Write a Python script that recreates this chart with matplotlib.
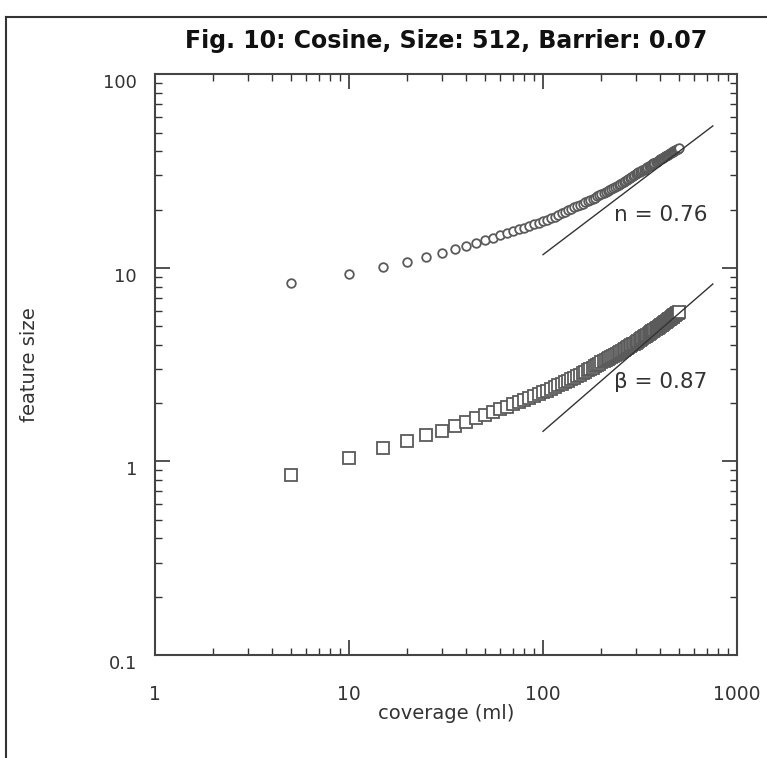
import matplotlib.pyplot as plt
import numpy as np
from matplotlib.lines import Line2D

ink = '#333333'
grey = '#5a5a5a'

plt.rcParams['font.family'] = ['DejaVu Sans']
plt.rcParams.update({
    'xtick.direction': 'in', 'ytick.direction': 'in',
    'xtick.top': True, 'ytick.right': True,
    'xtick.major.size': 11, 'ytick.major.size': 11,
    'xtick.minor.size': 5, 'ytick.minor.size': 5,
    'xtick.major.width': 1.2, 'ytick.major.width': 1.2,
    'xtick.minor.width': 1, 'ytick.minor.width': 1,
    'xtick.major.pad': 22, 'ytick.major.pad': 13,
    'xtick.color': ink, 'ytick.color': ink,
    'xtick.labelcolor': ink, 'ytick.labelcolor': ink,
    'xtick.labelsize': 13.5, 'ytick.labelsize': 13,
    'axes.edgecolor': '#444444', 'axes.linewidth': 1.5,
})

# coverage grid (ml), one point every 5 ml
coverage = np.arange(5, 505, 5)

# upper series (circles)
n_size = [8.35, 9.3, 10.1, 10.7, 11.4, 12.0, 12.5, 13.0, 13.5, 13.9,
          14.3, 14.7, 15.1, 15.5, 15.8, 16.1, 16.5, 16.8, 17.1, 17.4,
          17.7, 18.1, 18.4, 18.8, 19.1, 19.4, 19.8, 20.1, 20.5, 20.8,
          21.1, 21.4, 21.8, 22.1, 22.4, 22.7, 23.0, 23.4, 23.7, 24.0,
          24.3, 24.6, 25.0, 25.3, 25.6, 25.9, 26.2, 26.6, 26.9, 27.2,
          27.5, 27.9, 28.2, 28.5, 28.9, 29.2, 29.5, 29.8, 30.2, 30.5,
          30.8, 31.1, 31.4, 31.7, 32.0, 32.2, 32.5, 32.8, 33.1, 33.4,
          33.7, 34.0, 34.3, 34.6, 34.9, 35.1, 35.4, 35.7, 36.0, 36.3,
          36.6, 36.8, 37.1, 37.4, 37.7, 37.9, 38.2, 38.5, 38.7, 39.0,
          39.3, 39.5, 39.8, 40.0, 40.3, 40.5, 40.8, 41.0, 41.3, 41.5]

# lower series (squares)
b_size = [0.85, 1.04, 1.17, 1.28, 1.37, 1.44, 1.52, 1.60, 1.67, 1.74,
          1.80, 1.86, 1.92, 1.97, 2.02, 2.07, 2.12, 2.17, 2.22, 2.27,
          2.32, 2.37, 2.42, 2.47, 2.51, 2.56, 2.61, 2.66, 2.70, 2.75,
          2.80, 2.85, 2.90, 2.95, 3.00, 3.05, 3.10, 3.15, 3.20, 3.25,
          3.29, 3.34, 3.38, 3.42, 3.47, 3.51, 3.55, 3.59, 3.64, 3.68,
          3.72, 3.76, 3.81, 3.85, 3.89, 3.93, 3.97, 4.02, 4.06, 4.10,
          4.15, 4.19, 4.24, 4.28, 4.33, 4.37, 4.42, 4.46, 4.51, 4.55,
          4.60, 4.64, 4.69, 4.73, 4.78, 4.82, 4.87, 4.91, 4.96, 5.00,
          5.05, 5.09, 5.14, 5.18, 5.23, 5.27, 5.32, 5.36, 5.41, 5.45,
          5.50, 5.54, 5.59, 5.63, 5.68, 5.72, 5.77, 5.81, 5.86, 5.90]

# fitted power-law lines (end points)
fit_x = [100, 750]
n_fit = [11.7, 54.1]
b_fit = [1.43, 8.25]

fig = plt.figure(figsize=(7.67, 7.58), dpi=100)
ax = fig.add_axes([0.202, 0.136, 0.759, 0.766])

ax.plot(coverage, n_size, 'o', ms=6.2, mfc='white', mec=grey, mew=1.3, ls='none')
ax.plot(coverage, b_size, 's', ms=9, mfc='white', mec=grey, mew=1.3, ls='none')
ax.plot(fit_x, n_fit, color=ink, lw=1)
ax.plot(fit_x, b_fit, color=ink, lw=1)

ax.text(232, 18.8, 'n = 0.76', fontsize=15.5, color=ink, va='center')
ax.text(232, 2.58, 'β = 0.87', fontsize=15.5, color=ink, va='center')

ax.set_xscale('log')
ax.set_yscale('log')
ax.set_xlim(1, 1000)
ax.set_ylim(0.1, 100)
ax.set_xticks([1, 10, 100, 1000])
ax.set_xticklabels(['1', '10', '100', '1000'])
ax.set_yticks([0.1, 1, 10, 100])
ax.set_yticklabels(['0.1', '1', '10', '100'], va='top')
ax.tick_params(axis='x', which='both', bottom=True, top=True)

ax.set_xlabel('coverage (ml)', fontsize=14, color=ink, labelpad=0)
ax.set_ylabel('feature size', fontsize=14, color=ink, labelpad=46)
ax.set_title('Fig. 10: Cosine, Size: 512, Barrier: 0.07', fontsize=17,
             fontweight='bold', color='#111111', pad=19)

# outer frame, cut by the picture edge
fig.add_artist(Line2D([0.008, 0.008], [0, 0.978], transform=fig.transFigure,
                      color=ink, lw=1.5))
fig.add_artist(Line2D([0.008, 1.0], [0.978, 0.978], transform=fig.transFigure,
                      color=ink, lw=1.5))

fig.savefig('out.png', dpi=100)
